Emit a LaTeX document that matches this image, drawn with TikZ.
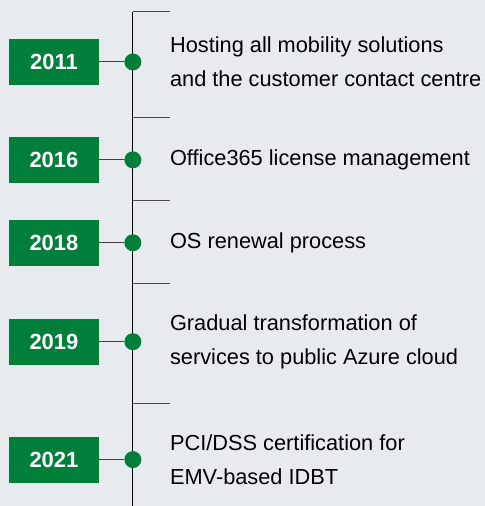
\documentclass[tikz,border=0pt]{standalone}
\usepackage{fontspec}
\setmainfont{Liberation Sans}
\definecolor{bggray}{HTML}{E8EBEE}
\definecolor{evgreen}{HTML}{007F3A}

\begin{document}
\begin{tikzpicture}[x=1pt,y=-1pt,
	year/.style={fill=evgreen, text=white, font=\bfseries\fontsize{22}{24}\selectfont, minimum width=90pt, minimum height=46pt, inner sep=0pt},
	dot/.style={circle, fill=evgreen, minimum size=17pt, inner sep=0pt},
	desc/.style={anchor=west, align=left, inner sep=0pt, font=\fontsize{21.8}{34}\selectfont},
	tick/.style={draw=black!70, line width=1pt},
	link/.style={draw=black!75, line width=1pt}]
		
		\fill[bggray] (0,0) rectangle (485,506);
		
		% the time axis and its ticks
		\coordinate (top) at (133,12);
		\coordinate (bot) at (133,506);
		\draw[line width=1pt] (top) -- (bot);
		\draw[tick] (top) -- (170,12);
		\draw[tick] (133,118) -- (170,118);
		\draw[tick] (133,201) -- (170,201);
		\draw[tick] (133,284) -- (170,284);
		\draw[tick] (133,404) -- (170,404);
		
		\node[year] (y2011) at (54,62) {2011};
		\node[dot] (d2011) at (133,62) {};
		\draw[link] (y2011) -- (d2011);
		\node[desc] (t2011) at (170,62) {Hosting all mobility solutions\\and the customer contact centre};
		
		\node[year] (y2016) at (54,160) {2016};
		\node[dot] (d2016) at (133,160) {};
		\draw[link] (y2016) -- (d2016);
		\node[desc] (t2016) at (170,160) {Office365 license management};
		
		\node[year] (y2018) at (54,243) {2018};
		\node[dot] (d2018) at (133,243) {};
		\draw[link] (y2018) -- (d2018);
		\node[desc] (t2018) at (170,243) {OS renewal process};
		
		\node[year] (y2019) at (54,342) {2019};
		\node[dot] (d2019) at (133,342) {};
		\draw[link] (y2019) -- (d2019);
		\node[desc] (t2019) at (170,342) {Gradual transformation of\\services to public Azure cloud};
		
		\node[year] (y2021) at (54,460) {2021};
		\node[dot] (d2021) at (133,460) {};
		\draw[link] (y2021) -- (d2021);
		\node[desc] (t2021) at (170,460) {PCI/DSS certification for\\EMV-based IDBT};
		
\end{tikzpicture}
\end{document}
